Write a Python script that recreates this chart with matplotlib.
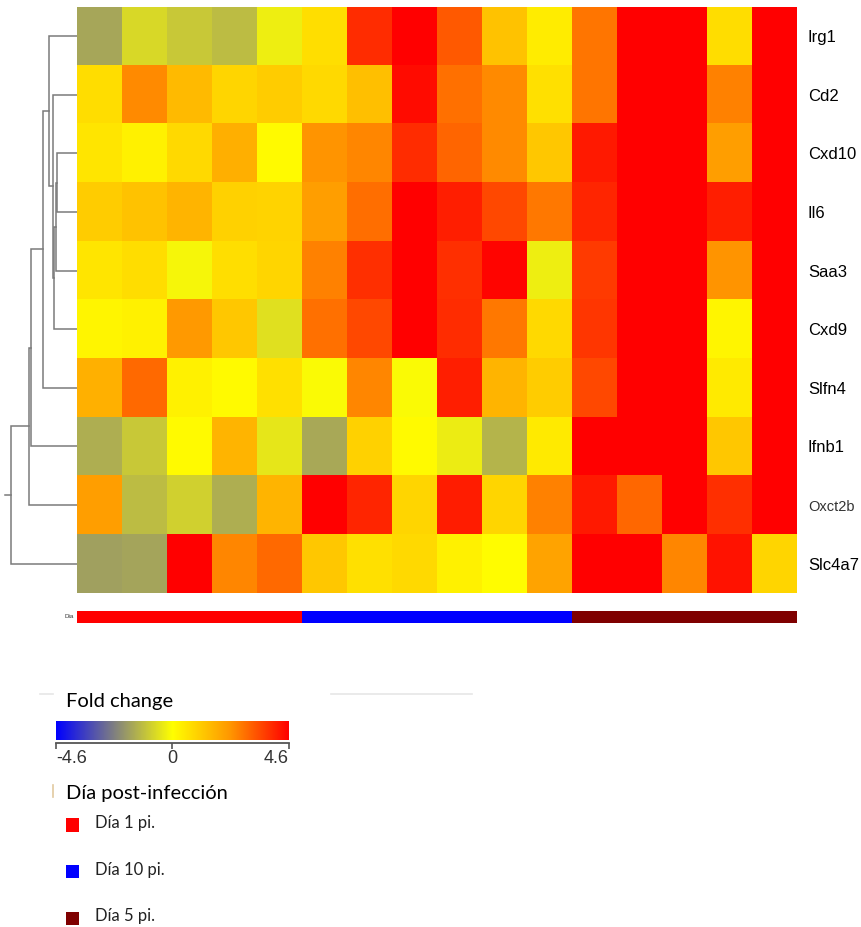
import numpy as np
import matplotlib
matplotlib.use("Agg")
import matplotlib.pyplot as plt
from matplotlib.colors import LinearSegmentedColormap, ListedColormap
from matplotlib.patches import Rectangle
from matplotlib.lines import Line2D

# ---------------- data ----------------
genes = ["Irg1", "Cd2", "Cxd10", "Il6", "Saa3", "Cxd9", "Slfn4", "Ifnb1", "Oxct2b", "Slc4a7"]

fold_change = np.array([
    [-1.6, -0.7, -1.0, -1.2, -0.3, 0.7, 3.9, 4.6, 3.2, 1.3, 0.4, 2.8, 4.6, 4.6, 0.75, 4.6],
    [0.75, 2.45, 1.5, 0.9, 1.1, 0.8, 1.4, 4.4, 2.85, 2.45, 0.65, 2.8, 4.6, 4.6, 2.6, 4.6],
    [0.55, 0.3, 0.8, 1.75, 0.1, 2.3, 2.55, 3.9, 3.05, 2.45, 1.2, 4.2, 4.6, 4.6, 2.1, 4.6],
    [1.1, 1.3, 1.65, 1.0, 0.95, 2.1, 2.9, 4.6, 4.1, 3.45, 2.75, 4.0, 4.6, 4.6, 4.1, 4.6],
    [0.55, 0.75, -0.15, 0.7, 0.9, 2.6, 3.85, 4.6, 3.85, 4.5, -0.3, 3.7, 4.6, 4.6, 2.3, 4.6],
    [0.2, 0.3, 2.2, 1.2, -0.55, 2.85, 3.45, 4.6, 3.9, 2.75, 0.8, 3.75, 4.6, 4.6, 0.2, 4.6],
    [1.7, 2.95, 0.3, 0.1, 0.65, -0.1, 2.55, -0.1, 4.1, 1.65, 1.1, 3.45, 4.6, 4.6, 0.45, 4.6],
    [-1.45, -1.0, 0.1, 1.65, -0.45, -1.55, 1.0, 0.1, -0.35, -1.35, 0.45, 4.6, 4.6, 4.6, 1.2, 4.6],
    [2.1, -1.2, -0.85, -1.45, 1.65, 4.6, 4.0, 0.9, 4.15, 0.9, 2.6, 4.2, 3.0, 4.6, 3.85, 4.6],
    [-1.7, -1.65, 4.6, 2.55, 2.95, 1.2, 0.65, 0.8, 0.3, 0.05, 2.0, 4.6, 4.6, 2.55, 4.3, 0.9],
])

# sample group of each column: 0 = Día 1, 1 = Día 10, 2 = Día 5
sample_day = [0, 0, 0, 0, 0, 1, 1, 1, 1, 1, 1, 2, 2, 2, 2, 2]
day_labels = ["Día 1 pi.", "Día 10 pi.", "Día 5 pi."]
day_colors = ["#ff0000", "#0000ff", "#7f0000"]

# row clustering: (left child, right child, merge height); leaves are 0..9
row_merges = [
    (2, 3, 20.0),    # 10
    (10, 4, 20.8),   # 11
    (11, 5, 22.6),   # 12
    (1, 12, 23.3),   # 13
    (0, 13, 27.6),   # 14
    (14, 6, 33.6),   # 15
    (15, 7, 45.3),   # 16
    (16, 8, 47.7),   # 17
    (17, 9, 65.3),   # 18
]

vmin, vmax = -4.6, 4.6
cmap = LinearSegmentedColormap.from_list(
    "fold", [(0.0, "#0000ff"), (0.25, "#808080"), (0.5, "#ffff00"),
             (0.75, "#ff9600"), (1.0, "#ff0000")])

# ---------------- layout helpers (pixel boxes) ----------------
W, H = 861, 927
fig = plt.figure(figsize=(W / 100, H / 100), dpi=100)


def box(x0, y0, x1, y1):
    return [x0 / W, 1 - y1 / H, (x1 - x0) / W, (y1 - y0) / H]


def fx(x):
    return x / W


def fy(y):
    return 1 - y / H


hm_left, hm_right, hm_top, hm_bottom = 76.7, 796.7, 6.7, 593.0

# ---------------- heatmap ----------------
ax = fig.add_axes(box(hm_left, hm_top, hm_right, hm_bottom))
n_rows, n_cols = fold_change.shape
ax.imshow(fold_change, cmap=cmap, vmin=vmin, vmax=vmax, aspect="auto",
          interpolation="nearest", extent=(0, n_cols, n_rows, 0))
ax.set_xlim(0, n_cols)
ax.set_ylim(n_rows, 0)
for s in ax.spines.values():
    s.set_visible(False)
ax.set_xticks([])
ax.yaxis.tick_right()
ax.set_yticks(np.arange(n_rows) + 0.5)
ax.set_yticklabels(genes, family="Liberation Sans", fontsize=12)
ax.tick_params(axis="y", length=0, pad=8)
for lbl in ax.get_yticklabels():
    if lbl.get_text() == "Oxct2b":
        lbl.set_fontsize(10.5)
        lbl.set_color("#333333")

# ---------------- row dendrogram ----------------
dax = fig.add_axes(box(0, hm_top, hm_left, hm_bottom))
dax.set_xlim(hm_left, 0)
dax.set_ylim(n_rows, 0)
dax.axis("off")
pos = {i: (i + 0.5, 0.0) for i in range(n_rows)}
for k, (a, b, h) in enumerate(row_merges):
    ya, ha = pos[a]
    yb, hb = pos[b]
    dax.plot([ha, h, h, hb], [ya, ya, yb, yb], color="#7a7a7a", lw=1.1,
             solid_joinstyle="miter")
    pos[n_rows + k] = ((ya + yb) / 2, h)
root_y, root_h = pos[n_rows + len(row_merges) - 1]
dax.plot([root_h, root_h + 6.5], [root_y, root_y], color="#7a7a7a", lw=1.1)

# ---------------- column annotation ----------------
cax = fig.add_axes(box(hm_left, 611, hm_right, 622.7))
cax.imshow(np.array([sample_day]), cmap=ListedColormap(day_colors), vmin=-0.5,
           vmax=2.5, aspect="auto", interpolation="nearest",
           extent=(0, n_cols, 1, 0))
cax.axis("off")
fig.text(fx(74), fy(617), "Dia", fontsize=4.5, ha="right", va="center",
         color="#333333", family="Liberation Sans")

# ---------------- legend: fold change ----------------
fig.add_artist(Line2D([fx(40), fx(53)], [fy(694), fy(694)], color="#e6e6e6", lw=1.2))
fig.add_artist(Line2D([fx(331), fx(472)], [fy(694), fy(694)], color="#e6e6e6", lw=1.2))
fig.text(fx(66), fy(702), "Fold change", fontsize=14.5, family="Lato",
         ha="left", va="center", color="#000000")

gax = fig.add_axes(box(56, 720.7, 288.7, 740))
gax.imshow(np.linspace(vmin, vmax, 256)[None, :], cmap=cmap, vmin=vmin, vmax=vmax,
           aspect="auto", extent=(vmin, vmax, 0, 1))
gax.axis("off")

sax = fig.add_axes(box(56, 735, 288.7, 742.7))
sax.set_xlim(vmin, vmax)
sax.patch.set_alpha(0)
for side in ("top", "left", "right"):
    sax.spines[side].set_visible(False)
sax.spines["bottom"].set_color("#555555")
sax.spines["bottom"].set_linewidth(1.3)
sax.set_yticks([])
sax.set_xticks([vmin, 0, vmax])
sax.set_xticklabels(["-4.6", "0", "4.6"], family="Liberation Sans", fontsize=13,
                    color="#333333")
sax.tick_params(axis="x", direction="out", length=4, width=1.2, color="#555555", pad=1)
for lbl, ha in zip(sax.get_xticklabels(), ["left", "center", "right"]):
    lbl.set_ha(ha)

# ---------------- legend: sample day ----------------
fig.add_artist(Line2D([fx(52.5), fx(52.5)], [fy(785), fy(797)], color="#e2c9a0", lw=1.2))
fig.text(fx(66), fy(794), "Día post-infección", fontsize=14.5, family="Lato",
         ha="left", va="center", color="#000000")
item_y = [825, 871.7, 918.3]
for yc, lab, col in zip(item_y, day_labels, day_colors):
    fig.add_artist(Rectangle((fx(65.7), fy(yc + 6.7)), 13.6 / W, 13.4 / H,
                             facecolor=col, edgecolor="none"))
    fig.text(fx(95), fy(yc - 2), lab, fontsize=12, family="Lato",
             ha="left", va="center", color="#222222")

fig.savefig("out.png", dpi=100, facecolor="white")
